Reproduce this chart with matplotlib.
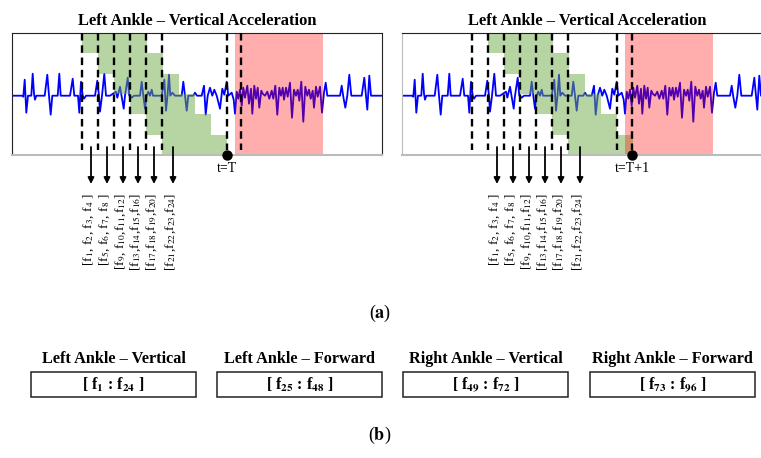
import matplotlib
matplotlib.use("Agg")
import matplotlib.pyplot as plt
from matplotlib.patches import Rectangle

plt.rcParams["mathtext.fontset"] = "stix"
SERIF = "Liberation Serif"

# acceleration trace (time in samples, amplitude), shared by both panels
sig_t = [0, 10, 11.3, 12.7, 14.3, 16, 19.3, 20.7, 22, 23, 24.3, 32.7, 35.3, 37, 38.7, 40.3,
         45.7, 47.3, 48.7, 58, 60.7, 62.3, 66, 67.3, 69, 70.7, 72, 74, 83, 85.3, 87, 88, 90,
         92.3, 94, 98, 104, 105.3, 108, 111.7, 113, 115.7, 117.3, 119.7, 122, 128, 129.7,
         131.3, 133, 134.7, 136.3, 138, 139.7, 141, 149.7, 152.3, 154, 155.5, 157, 158.3,
         160.3, 163, 169.7, 171.3, 173, 174.7, 176.3, 181.3, 183, 185, 189.7, 192, 193.7,
         195.7, 198, 200.3, 202.3, 204.7, 208, 210.3, 212.3, 214.7, 216.3, 219.7, 221.7, 223,
         224.7, 226.3, 228, 229.7, 231.3, 233, 235.3, 237, 239, 240.3, 242.3, 244, 245.7,
         247.3, 249.3, 250.7, 253, 255.3, 257.3, 259.7, 261.3, 263.3, 265.3, 267.3, 269,
         270.7, 272, 274, 275.7, 278, 280, 282, 284, 285.7, 287.3, 289.3, 291.3, 293.3, 295.3,
         297, 298.7, 300.7, 302, 304, 305.7, 308, 310, 312, 313.7, 315.3, 328, 329.7, 331.3,
         333.3, 335.3, 337.3, 339.3, 349.7, 352.3, 354, 355.3, 357.3, 359, 370]
sig_v = [0, 0, -1, 16, -17, 0, 0, 22, 2, -4, 0, 0, 21, 0, -19, 0,
         0, 22, 0, 0, 17, 0, 0, -17, 14, 0, -3, 0, 0, 15, 0, -16, 0,
         22, 0, 0, 4, -2, 9, -13, 0, 18, 0, -2, 0, 0, 14,
         0, -13, 0, 4, 0, 6, 0, 0, 16, -15, 0, 21, 0,
         3, 0, 0, 14, 0, -15, 0, 0, 3, 0, 0, 10, -19,
         0, 8, 0, 6, 0, -13, 7, 1, 14, 0, 3, -4, -18,
         4, -3, 6, -10, 8, -2, 10, -8, 7, -18, 10, -3, 8,
         -12, 5, 2, 0, 4, -3, 5, -3, 10, -19, 8, 0,
         8, -4, 8, -1, 13, -22, 6, 0, 6, -5, 14, -26, 9, 0,
         6, -3, 5, -12, 9, -1, 9, -17, 3, 13, 0, 0, 10, -1,
         -12, 0, 21, 0, 0, 18, 0, -14, 20, 0, 0]

win_len = 65
red_span = (223, 311)

# panel (a) left: time t = T, right: t = T + 1
starts_L = [70, 86, 102, 118, 134, 150]
dashes_L = [70, 86, 102, 118, 134, 150, 215, 229]
arrows_L = [79, 95, 111, 126, 142, 161]
T_L = 215
starts_R = [86, 102, 118, 134, 150, 166]
dashes_R = [70, 86, 102, 118, 134, 150, 166, 215, 230]
arrows_R = [95, 111, 127, 143, 159, 178]
T_R = 230

feat_labels = [r"[f$_1$, f$_2$, f$_3$, f$_4$ ]",
               r"[f$_5$, f$_6$, f$_7$, f$_8$ ]",
               r"[f$_9$, f$_{10}$,f$_{11}$,f$_{12}$]",
               r"[f$_{13}$,f$_{14}$,f$_{15}$,f$_{16}$]",
               r"[f$_{17}$,f$_{18}$,f$_{19}$,f$_{20}$]",
               r"[f$_{21}$,f$_{22}$,f$_{23}$,f$_{24}$]"]

# panel (b)
group_names = ["Left Ankle \u2013 Vertical", "Left Ankle \u2013 Forward",
               "Right Ankle \u2013 Vertical", "Right Ankle \u2013 Forward"]
group_ranges = [(1, 24), (25, 48), (49, 72), (73, 96)]

W, H = 761, 458
fig = plt.figure(figsize=(W / 100, H / 100), dpi=100)
ax = fig.add_axes([0, 0, 1, 1])
ax.set_xlim(0, W)
ax.set_ylim(H, 0)
ax.axis("off")
ax.set_zorder(10)

top, bot = 33, 155
base = 95.7


def draw_panel(x0, starts, dashes, arrows, T, tlabel):
    pa = fig.add_axes([x0 / W, 1 - bot / H, 370 / W, (bot - top) / H])
    ylo, yhi = -(bot - base), base - top
    pa.plot(sig_t, sig_v, color="#0000ff", lw=1.3, zorder=1)
    for k, s in enumerate(starts):
        pa.axvspan(s, s + win_len, ymin=1 - (k + 1) / 6, ymax=1 - k / 6,
                   color="#70ad47", alpha=0.5, lw=0, zorder=2)
    pa.axvspan(*red_span, color="#ff0000", alpha=0.32, lw=0, zorder=2)
    for d in dashes:
        pa.axvline(d, ymin=1, ymax=0.04, color="k", lw=1.7,
                   ls=(0, (3.2, 2.0)), zorder=3)
    pa.plot([T], [ylo], "o", ms=6.5, color="k", clip_on=False, zorder=5)
    pa.set_xlim(0, 370)
    pa.set_ylim(ylo, yhi)
    pa.set_xticks([]); pa.set_yticks([])
    for side in ["top", "left", "right"]:
        pa.spines[side].set_color("#222222")
    pa.spines["bottom"].set_color("#bbbbbb")
    pa.spines["bottom"].set_linewidth(1.5)
    if x0 > 200:
        pa.spines["left"].set_color("#bbbbbb")

    ax.text(x0 + 185, 21, "Left Ankle \u2013 Vertical Acceleration", ha="center",
            va="center", family=SERIF, weight="bold", fontsize=11.9)
    ax.text(x0 + T, 168, tlabel, ha="center", va="center", family=SERIF, fontsize=10)
    for a, lab in zip(arrows, feat_labels):
        ax.annotate("", xy=(x0 + a, 184), xytext=(x0 + a, 147),
                    arrowprops=dict(arrowstyle="-|>", color="k", lw=1.3,
                                    mutation_scale=9, shrinkA=0, shrinkB=0))
        ax.text(x0 + a - 2, 193, lab, rotation=90, ha="center", va="top",
                family=SERIF, fontsize=9.6)


draw_panel(12, starts_L, dashes_L, arrows_L, T_L, "t=T")
draw_panel(402, starts_R, dashes_R, arrows_R, T_R, "t=T+1")

ax.text(380, 313, r"($\mathbf{a}$)", ha="center", va="center", family=SERIF, fontsize=13)

box_x = [31, 217, 403, 590]
for bx, name, (lo, hi) in zip(box_x, group_names, group_ranges):
    ax.add_patch(Rectangle((bx, 372), 165, 25, fill=False, ec="#222222", lw=1.1))
    ax.text(bx + 82.5, 359, name, ha="center", va="center", family=SERIF,
            weight="bold", fontsize=11.7)
    ax.text(bx + 82.5, 385, r"[ f$_{\mathbf{%d}}$ : f$_{\mathbf{%d}}$ ]" % (lo, hi),
            ha="center", va="center", family=SERIF, weight="bold", fontsize=11.5)

ax.text(380, 435, r"($\mathbf{b}$)", ha="center", va="center", family=SERIF, fontsize=13)

fig.savefig("out.png", dpi=100)
